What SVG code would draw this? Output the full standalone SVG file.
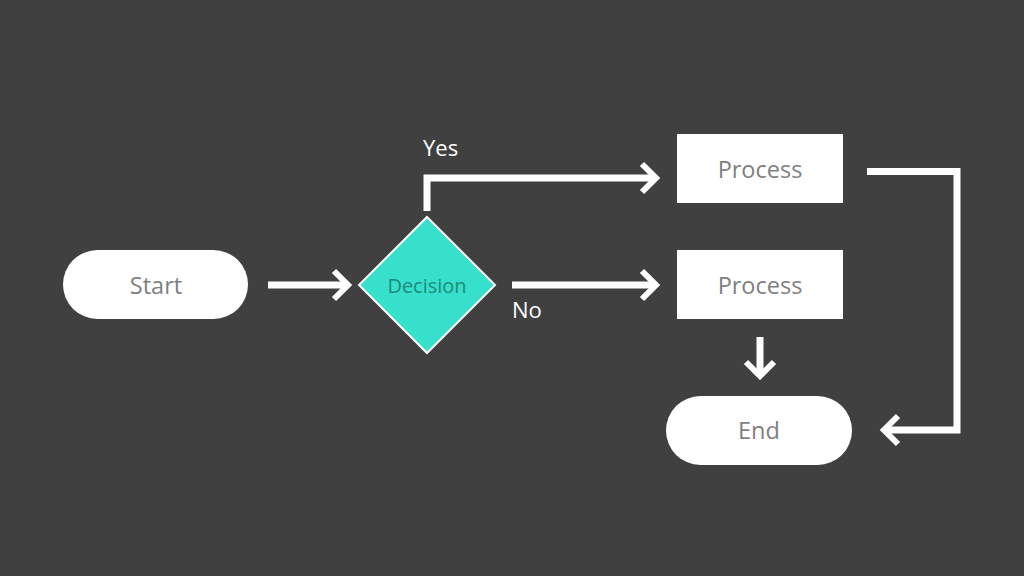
<svg xmlns="http://www.w3.org/2000/svg" width="1024" height="576" viewBox="0 0 1024 576">
<style>
.pill{fill:#fff}
.box{fill:#fff}
.lbl{font-family:"Open Sans","Noto Sans",sans-serif;font-size:23.5px;fill:#7f7f7f;text-anchor:middle;dominant-baseline:central}
.edge{fill:none;stroke:#fff;stroke-width:7}
.head{fill:none;stroke:#fff;stroke-width:6;stroke-linecap:butt;stroke-linejoin:miter}
.elbl{font-family:"Open Sans","Noto Sans",sans-serif;font-size:22px;fill:#fff}
</style>
<rect width="1024" height="576" fill="#404040"/>
<g id="start"><rect class="pill" x="63" y="250" width="185" height="69" rx="34.5"/><text class="lbl" x="156" y="285">Start</text></g>
<g id="decision"><polygon points="427,217 495,285 427,353 359,285" fill="#36e0cb" stroke="#fff" stroke-width="2"/><text class="lbl" x="427" y="285" style="font-size:20px;fill:#1f8a7c">Decision</text></g>
<g id="process1"><rect class="box" x="677" y="134" width="166" height="69"/><text class="lbl" x="760" y="169">Process</text></g>
<g id="process2"><rect class="box" x="677" y="250" width="166" height="69"/><text class="lbl" x="760" y="285">Process</text></g>
<g id="end"><rect class="pill" x="666" y="396" width="186" height="69" rx="34.5"/><text class="lbl" x="759" y="430">End</text></g>
<g id="connectors">
<path class="edge" d="M268 285 H346"/><path class="head" d="M334 271 L348 285 L334 299"/>
<path class="edge" d="M427 211 V178 H656"/><path class="head" d="M642 164 L656 178 L642 192"/>
<path class="edge" d="M512 285 H656"/><path class="head" d="M642 271 L656 285 L642 299"/>
<path class="edge" d="M760 337 V374"/><path class="head" d="M746 362 L760 376 L774 362"/>
<path class="edge" d="M867 171.5 H957 V430 H886"/><path class="head" d="M898 416 L884 430 L898 444"/>
<text class="elbl" x="423" y="156">Yes</text>
<text class="elbl" x="512" y="318">No</text>
</g>
</svg>
